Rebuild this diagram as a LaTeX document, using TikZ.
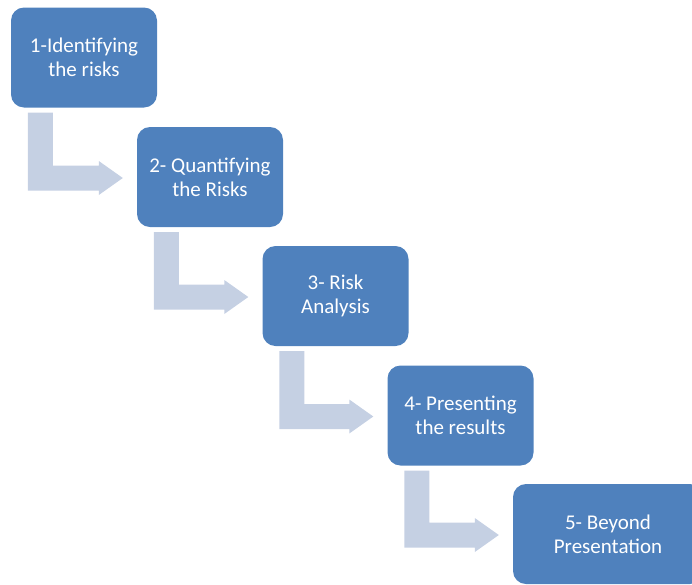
\documentclass[tikz,border=0pt]{standalone}
\usepackage{fontspec}
\setmainfont{Carlito}
\usetikzlibrary{calc}
\definecolor{stepblue}{HTML}{4F81BD}
\definecolor{flowgrey}{HTML}{C5D0E3}
\tikzset{
  stepbox/.style={fill=stepblue, rounded corners=13pt, minimum width=146pt,
    minimum height=100pt, inner sep=0pt, align=center, text=white,
    font=\fontsize{21pt}{24pt}\selectfont},
  flowarrow/.style={fill=flowgrey, draw=none}
}
% bent block arrow from the bottom of one box to the left side of the next
\newcommand\bentarrow[2]{%
  \fill[flowarrow] let \p1=($(#1.south west)+(17,5)$), \p2=($(#2.west)+(-14,1)$) in
    (\x1,\y1) -- (\x1+25pt,\y1) -- (\x1+25pt,\y2+12.5pt) -- (\x2-24pt,\y2+12.5pt)
    -- (\x2-24pt,\y2+17pt) -- (\x2,\y2) -- (\x2-24pt,\y2-17pt)
    -- (\x2-24pt,\y2-12.5pt) -- (\x1,\y2-12.5pt) -- cycle;}
\begin{document}
\begin{tikzpicture}[x=1pt,y=-1pt]
  \useasboundingbox (0,0) rectangle (692,584);
  \clip (0,0) rectangle (692,584);
  \node[stepbox] (s1) at (84,57.5) {1-Identifying\\the risks};
  \node[stepbox] (s2) at (210,177) {2- Quantifying\\the Risks};
  \node[stepbox] (s3) at (335.5,296) {3- Risk\\Analysis};
  \node[stepbox] (s4) at (460.5,415.5) {4- Presenting\\the results};
  \node[stepbox, minimum width=190pt] (s5) at (608,534) {5- Beyond\\Presentation};
  \bentarrow{s1}{s2}
  \bentarrow{s2}{s3}
  \bentarrow{s3}{s4}
  \bentarrow{s4}{s5}
\end{tikzpicture}
\end{document}
